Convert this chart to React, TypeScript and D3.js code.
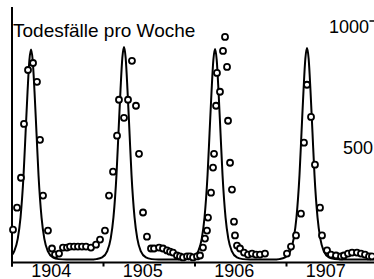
import React from 'react';
import * as d3 from 'd3';

const W = 374;
const H = 279;

const yearTicks = [1904, 1905, 1906, 1907];
const yearLabels = ['1904', '1905', '1906', '1907'];
const valueTicks = [500, 1000];
const valueLabels = ['500', '1000'];
const titleText = 'Todesfälle pro Woche';

// observed weekly deaths (circles)
const obsTime = [
  1904.011, 1904.055, 1904.098, 1904.131, 1904.175, 1904.230, 1904.273, 1904.306, 1904.339, 1904.393,
  1904.437, 1904.470, 1904.514, 1904.557, 1904.601, 1904.634, 1904.678, 1904.721, 1904.765, 1904.809,
  1904.863, 1904.918, 1904.962, 1905.016, 1905.060, 1905.104, 1905.148, 1905.169, 1905.224, 1905.268,
  1905.311, 1905.355, 1905.388, 1905.432, 1905.475, 1905.519, 1905.552, 1905.607, 1905.650, 1905.694,
  1905.727, 1905.760, 1905.803, 1905.836, 1905.869, 1905.913, 1905.945, 1905.978, 1906.022, 1906.055,
  1906.087, 1906.109, 1906.131, 1906.142, 1906.175, 1906.197, 1906.208, 1906.230, 1906.240, 1906.273,
  1906.306, 1906.328, 1906.350, 1906.361, 1906.383, 1906.404, 1906.426, 1906.437, 1906.459, 1906.492,
  1906.536, 1906.579, 1906.623, 1906.667, 1906.710, 1906.765,
  1907.005, 1907.049, 1907.104, 1907.158, 1907.191, 1907.224, 1907.268, 1907.311, 1907.366, 1907.388,
  1907.443, 1907.486, 1907.541, 1907.596, 1907.628, 1907.672, 1907.716, 1907.770, 1907.814, 1907.858,
  1907.902, 1907.934,
];
const obsDeaths = [
  136, 227, 351, 574, 797, 826, 748, 508, 277, 132,
  58, 33, 37, 62, 62, 66, 66, 66, 66, 66,
  62, 74, 95, 132, 277, 376, 525, 674, 599, 674,
  835, 649, 450, 207, 107, 58, 58, 62, 58, 50,
  45, 41, 29, 25, 21, 25, 25, 21, 25, 29,
  62, 99, 132, 186, 289, 393, 450, 649, 785, 707,
  876, 934, 810, 587, 413, 302, 169, 112, 70, 58,
  41, 33, 37, 33, 33, 37,
  37, 66, 112, 202, 496, 736, 603, 405, 227, 112,
  50, 33, 29, 25, 29, 37, 41, 41, 37, 33,
  25, 25,
];

// fitted model curve (solid line)
const modelTime = [
  1904.000, 1904.025, 1904.063, 1904.093, 1904.126, 1904.148, 1904.170, 1904.190, 1904.208,
  1904.226, 1904.246, 1904.268, 1904.290, 1904.323, 1904.353, 1904.391, 1904.447, 1904.511,
  1904.600, 1904.700, 1904.800, 1904.860,
  1904.921, 1904.985, 1905.041, 1905.079, 1905.109, 1905.142, 1905.164, 1905.186, 1905.206, 1905.224,
  1905.242, 1905.262, 1905.284, 1905.306, 1905.339, 1905.369, 1905.407, 1905.463, 1905.527,
  1905.600, 1905.700, 1905.800, 1905.860,
  1905.916, 1905.980, 1906.036, 1906.074, 1906.104, 1906.137, 1906.159, 1906.181, 1906.201, 1906.219,
  1906.237, 1906.257, 1906.279, 1906.301, 1906.334, 1906.364, 1906.402, 1906.458, 1906.522,
  1906.600, 1906.700, 1906.800, 1906.860,
  1906.921, 1906.985, 1907.041, 1907.079, 1907.109, 1907.142, 1907.164, 1907.186, 1907.206, 1907.224,
  1907.242, 1907.262, 1907.284, 1907.306, 1907.339, 1907.369, 1907.407, 1907.463, 1907.527,
  1907.600, 1907.700, 1907.800, 1907.900, 1908.000,
];
const modelDeaths = [
  31, 47, 99, 186, 360, 534, 708, 838, 882,
  838, 708, 534, 360, 186, 99, 47, 21, 14,
  12, 12, 12, 12,
  14, 21, 47, 100, 188, 364, 540, 716, 848, 892,
  848, 716, 540, 364, 188, 100, 47, 21, 14,
  12, 12, 12, 12,
  14, 21, 47, 99, 186, 361, 535, 710, 840, 884,
  840, 710, 535, 361, 186, 99, 47, 21, 14,
  12, 12, 12, 12,
  14, 21, 47, 100, 187, 362, 538, 713, 844, 888,
  844, 713, 538, 362, 187, 100, 47, 21, 14,
  12, 12, 12, 12, 12,
];

const FONT = "'Liberation Sans', Arial, Helvetica, sans-serif";

export default function App() {
  const x = d3.scaleLinear().domain([1904, 1908]).range([12, 378]);
  const y = d3.scaleLinear().domain([0, 1000]).range([262.5, 21]);

  const modelIdx = d3.range(modelTime.length);
  const line = d3
    .line<number>()
    .x((i) => x(modelTime[i]))
    .y((i) => y(modelDeaths[i]))
    .curve(d3.curveMonotoneX);

  const x0 = x(1904);
  const yBase = y(0);
  // left edge of each right-hand value label, as drawn in the original
  const valueLabelX: Record<number, number> = { 500: 343, 1000: 329 };

  return (
    <svg
      width={W}
      height={H}
      viewBox={`0 0 ${W} ${H}`}
      style={{ position: 'absolute', left: 0, top: 0, background: '#fff' }}
    >
      <rect x={0} y={0} width={W} height={H} fill="#fff" />
      {/* model curve */}
      <path d={line(modelIdx) || ''} fill="none" stroke="#000" strokeWidth={2} />
      {/* axes */}
      <line x1={x0} x2={x0} y1={7} y2={yBase + 4} stroke="#000" strokeWidth={2} />
      <line x1={x0} x2={W} y1={yBase} y2={yBase} stroke="#000" strokeWidth={2} />
      {yearTicks.map((t) => (
        <line key={'t' + t} x1={x(t)} x2={x(t)} y1={yBase} y2={yBase + 4} stroke="#000" strokeWidth={2} />
      ))}
      {yearTicks.map((t, i) => (
        <text
          key={'l' + t}
          x={x(t + 0.43)}
          y={276.5}
          textAnchor="middle"
          fontFamily={FONT}
          fontSize={18}
          fill="#000"
        >
          {yearLabels[i]}
        </text>
      ))}
      {/* right value labels */}
      {valueTicks.map((v, i) => (
        <g key={'v' + v}>
          <text x={valueLabelX[v]} y={y(v) + 12} textAnchor="start" fontFamily={FONT} fontSize={18} fill="#000">
            {valueLabels[i]}
          </text>
          {v === 1000 && (
            <line x1={369.5} x2={374} y1={y(v)} y2={y(v)} stroke="#000" strokeWidth={1.5} />
          )}
        </g>
      ))}
      {/* title */}
      <text x={13} y={37} fontFamily={FONT} fontSize={19} fill="#000">
        {titleText}
      </text>
      {/* observed points */}
      {obsTime.map((t, i) => (
        <circle
          key={'o' + i}
          cx={x(t)}
          cy={y(obsDeaths[i])}
          r={3}
          fill="#fff"
          stroke="#000"
          strokeWidth={1.8}
        />
      ))}
    </svg>
  );
}
